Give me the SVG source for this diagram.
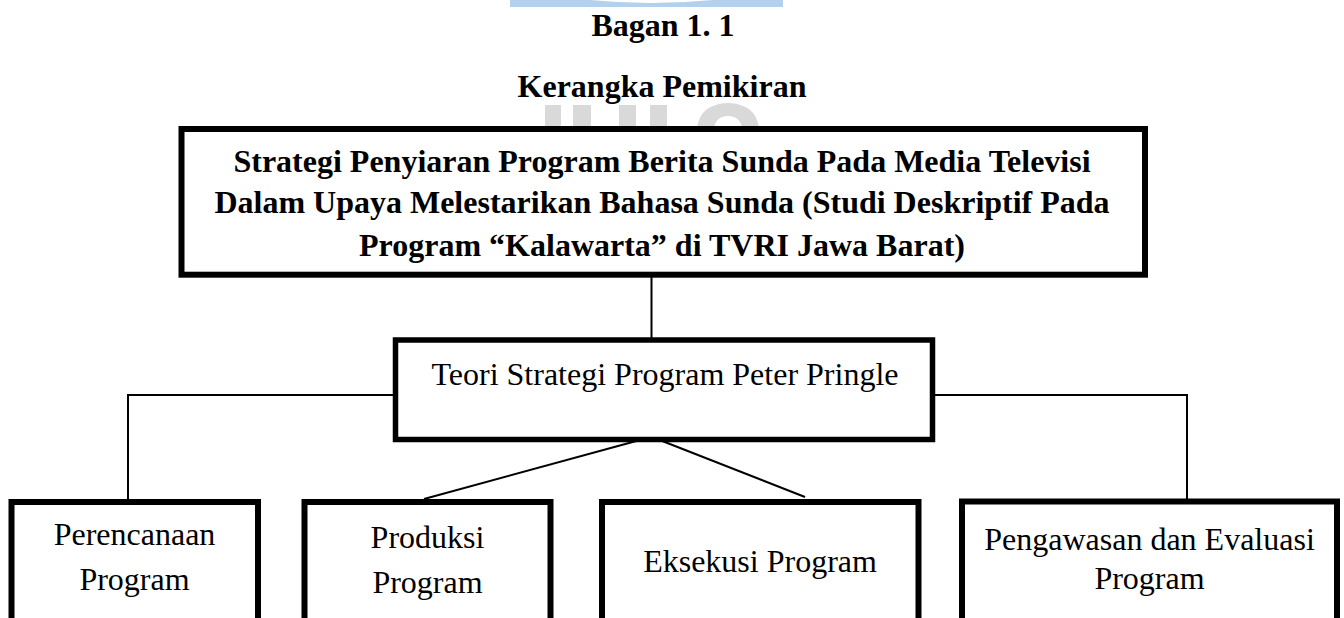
<svg xmlns="http://www.w3.org/2000/svg" width="1344" height="618" viewBox="0 0 1344 618">
<style>
.box{fill:#fff;stroke:#000;stroke-width:6}
.t{font-family:"Liberation Serif","Times New Roman",serif;font-size:32px;fill:#000;text-anchor:middle}
.b{font-weight:bold}
.c{fill:none;stroke:#000;stroke-width:2}
.wm-b{fill:#b3d1ee}
.wm-g{fill:#d9d9d9}
</style>
<rect x="0" y="0" width="1344" height="618" fill="#fff"/>
<g id="watermark">
<path class="wm-b" d="M510,0 H783 V7 H510 Z M590,0 Q650,6 713,0 Z" fill-rule="evenodd"/>
<rect class="wm-g" x="545" y="105" width="16" height="23"/>
<rect class="wm-g" x="573" y="105" width="18" height="23"/>
<rect class="wm-g" x="619" y="105" width="17" height="23"/>
<rect class="wm-g" x="650" y="105" width="17" height="23"/>
<path class="wm-g" d="M697,128 Q700,104 728,103 Q756,104 759,128 H742 Q740,116 728,116 Q716,116 714,128 Z"/>
</g>
<g id="title">
<text class="t b" x="663" y="36">Bagan 1. 1</text>
<text class="t b" x="662" y="97">Kerangka Pemikiran</text>
</g>
<g id="connectors">
<line class="c" x1="651.5" y1="277" x2="651.5" y2="340"/>
<polyline class="c" points="395,395 128,395 128,499"/>
<polyline class="c" points="935,395 1187,395 1187,499"/>
<line class="c" x1="640" y1="440" x2="424" y2="499"/>
<line class="c" x1="652" y1="437" x2="805" y2="497"/>
</g>
<g id="node-main">
<rect class="box" x="181.5" y="129" width="963.5" height="145.7"/>
<text class="t b" x="662" y="172">Strategi Penyiaran Program Berita Sunda Pada Media Televisi</text>
<text class="t b" x="662" y="213">Dalam Upaya Melestarikan Bahasa Sunda (Studi Deskriptif Pada</text>
<text class="t b" x="662" y="256">Program “Kalawarta” di TVRI Jawa Barat)</text>
</g>
<g id="node-teori">
<rect class="box" x="395.5" y="340" width="537" height="99.5" style="stroke-width:5.5"/>
<text class="t" x="665" y="385">Teori Strategi Program Peter Pringle</text>
</g>
<g id="node-perencanaan">
<rect class="box" x="11.5" y="502" width="246.5" height="140"/>
<text class="t" x="134.5" y="545">Perencanaan</text>
<text class="t" x="134.5" y="590">Program</text>
</g>
<g id="node-produksi">
<rect class="box" x="304.5" y="502" width="246" height="140"/>
<text class="t" x="427.5" y="547.5">Produksi</text>
<text class="t" x="427.5" y="593">Program</text>
</g>
<g id="node-eksekusi">
<rect class="box" x="602" y="502" width="316.5" height="140"/>
<text class="t" x="760" y="572">Eksekusi Program</text>
</g>
<g id="node-pengawasan">
<rect class="box" x="962" y="501.5" width="375" height="140"/>
<text class="t" x="1149.5" y="550">Pengawasan dan Evaluasi</text>
<text class="t" x="1149.5" y="588.5">Program</text>
</g>
</svg>
